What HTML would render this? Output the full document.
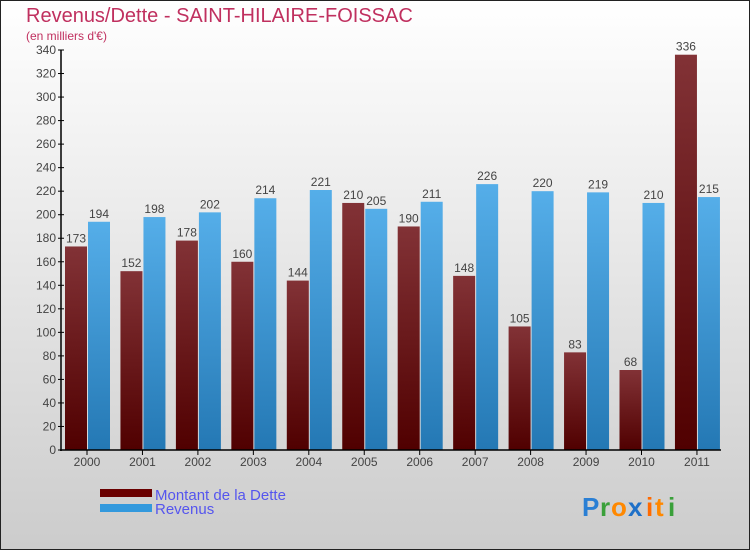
<!DOCTYPE html>
<html><head><meta charset="utf-8"><style>
body{margin:0;}
svg{display:block;font-family:"Liberation Sans",sans-serif;}
</style></head><body>
<svg id="c" width="750" height="550" xmlns="http://www.w3.org/2000/svg">
<defs>
<linearGradient id="bg" x1="0" y1="0" x2="0" y2="1"><stop offset="0" stop-color="#ffffff"/><stop offset="1" stop-color="#cccccc"/></linearGradient>
<linearGradient id="gd" x1="0" y1="0" x2="0" y2="1"><stop offset="0" stop-color="#823236"/><stop offset="1" stop-color="#500000"/></linearGradient>
<linearGradient id="gr" x1="0" y1="0" x2="0" y2="1"><stop offset="0" stop-color="#55aee9"/><stop offset="1" stop-color="#2478b4"/></linearGradient>
</defs>
<rect x="0.5" y="0.5" width="749" height="549" fill="url(#bg)" stroke="#222"/>
<text x="26" y="22" font-size="20" fill="#c0305f">Revenus/Dette - SAINT-HILAIRE-FOISSAC</text>
<text x="26" y="40" font-size="12" fill="#c0305f">(en milliers d'€)</text>
<g id="plot"></g>
<rect x="100" y="489" width="52" height="8" fill="#6a0000"/>
<text x="155" y="500" font-size="15" fill="#5555ee">Montant de la Dette</text>
<rect x="100" y="504" width="52" height="8" fill="#3399dd"/>
<text x="155" y="514" font-size="15" fill="#5555ee">Revenus</text>
<g font-size="26" font-weight="bold">
<text x="582" y="516" fill="#2a7fd4">P</text><text x="600" y="516" fill="#3aa03a">r</text><text x="611" y="516" fill="#ff8800">o</text><text x="628" y="516" fill="#1e70c8">x</text><text x="646" y="516" fill="#ff6a00">i</text><text x="655" y="516" fill="#ff8800">t</text><text x="668" y="516" fill="#3aa03a">i</text>
</g>
</svg>
<script>
const years=["2000","2001","2002","2003","2004","2005","2006","2007","2008","2009","2010","2011"];
const dette=[173,152,178,160,144,210,190,148,105,83,68,336];
const revenus=[194,198,202,214,221,205,211,226,220,219,210,215];
const yTicks=[0,20,40,60,80,100,120,140,160,180,200,220,240,260,280,300,320,340];
const NS="http://www.w3.org/2000/svg";
const g=document.getElementById('plot');
const y0=450,yMax=340,ph=400;
const yS=v=>y0-v/yMax*ph;
const step=55.45,x0=65,bw=22;
function el(t,a){const e=document.createElementNS(NS,t);for(const k in a)e.setAttribute(k,a[k]);g.appendChild(e);return e;}
yTicks.forEach(t=>{
 const l=el('line',{x1:58,x2:64,y1:yS(t),y2:yS(t),stroke:'#000'});
 
 
 const tx=el('text',{x:56,y:yS(t)+4,'font-size':12,'text-anchor':'end',fill:'#444'});tx.textContent=t;
 
 
});
years.forEach((yr,i)=>{
 const gx=x0+i*step;
 const b1=el('rect',{x:gx,y:yS(dette[i]),width:bw,height:y0-yS(dette[i]),fill:'url(#gd)'});
 
 
 const b2=el('rect',{x:gx+bw+1,y:yS(revenus[i]),width:bw,height:y0-yS(revenus[i]),fill:'url(#gr)'});
 
 
 const v1=el('text',{x:gx+bw/2,y:yS(dette[i])-4,'font-size':12,'text-anchor':'middle',fill:'#444'});v1.textContent=dette[i];
 
 
 const v2=el('text',{x:gx+bw*1.5+1,y:yS(revenus[i])-4,'font-size':12,'text-anchor':'middle',fill:'#444'});v2.textContent=revenus[i];
 
 
 const tk=el('line',{x1:gx+bw,x2:gx+bw,y1:450,y2:455,stroke:'#000'});
 
 
 const lb=el('text',{x:gx+bw,y:466,'font-size':12,'text-anchor':'middle',fill:'#444'});lb.textContent=yr;
 
 
});
const ya=el('line',{x1:61,x2:61,y1:50,y2:451,stroke:'#000','stroke-width':1.5});


const xa=el('line',{x1:60,x2:721,y1:450,y2:450,stroke:'#000','stroke-width':1.5});


</script>
</body></html>
